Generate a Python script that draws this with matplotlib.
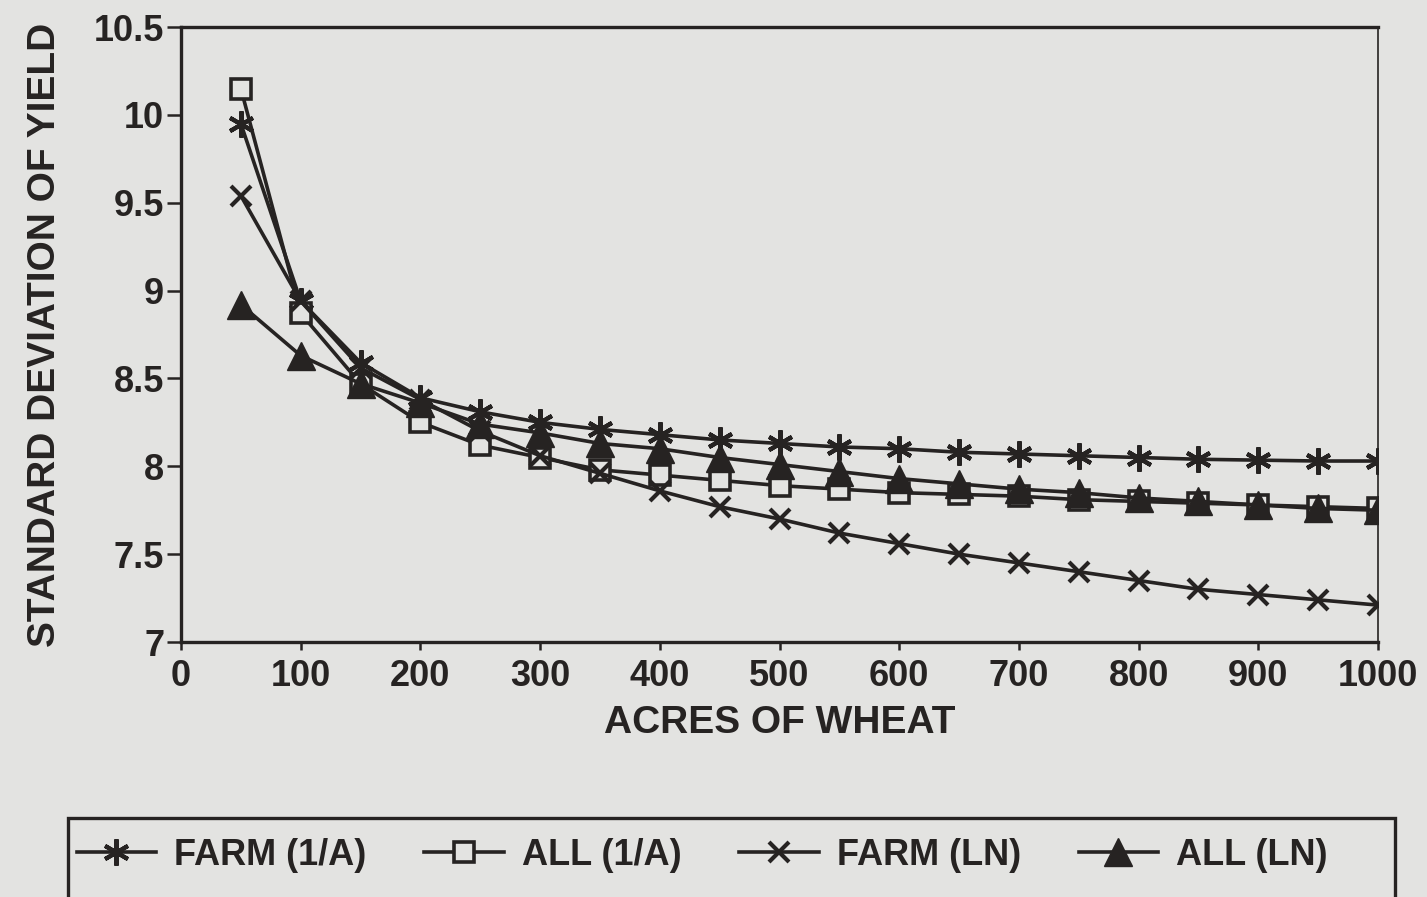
import matplotlib.pyplot as plt
from matplotlib.patches import Rectangle

plt.rcParams['font.family'] = ['Liberation Sans', 'DejaVu Sans']

# acres of wheat and the standard deviation of yield for each model
acres = [50, 100, 150, 200, 250, 300, 350, 400, 450, 500,
         550, 600, 650, 700, 750, 800, 850, 900, 950, 1000]
farm_inv = [9.95, 8.94, 8.59, 8.39, 8.31, 8.25, 8.21, 8.18, 8.15, 8.13,
            8.11, 8.10, 8.08, 8.07, 8.06, 8.05, 8.04, 8.035, 8.03, 8.03]
all_inv = [10.15, 8.87, 8.47, 8.25, 8.12, 8.05, 7.98, 7.95, 7.92, 7.89,
           7.87, 7.85, 7.84, 7.83, 7.81, 7.80, 7.79, 7.78, 7.77, 7.76]
farm_ln = [9.54, 8.94, 8.56, 8.38, 8.20, 8.06, 7.96, 7.86, 7.77, 7.70,
           7.62, 7.56, 7.50, 7.45, 7.40, 7.35, 7.30, 7.27, 7.24, 7.21]
all_ln = [8.92, 8.63, 8.47, 8.36, 8.24, 8.19, 8.13, 8.10, 8.05, 8.01,
          7.97, 7.93, 7.90, 7.87, 7.85, 7.82, 7.80, 7.78, 7.76, 7.75]

bg = "#e3e3e1"
ink = "#262322"

fig = plt.figure(figsize=(14.27, 8.97), dpi=100, facecolor=bg)
ax = fig.add_axes([181 / 1427, 1 - 642 / 897, (1378 - 181) / 1427, (642 - 27) / 897])
ax.set_facecolor(bg)

lw = 2.6
ax.plot(acres, farm_inv, color=ink, lw=lw, marker=(6, 2, 0), ms=19, mew=3.0,
        label="FARM (1/A)")
ax.plot(acres, all_inv, color=ink, lw=lw, marker="s", ms=14, mew=2.6,
        mfc=bg, mec=ink, label="ALL (1/A)")
ax.plot(acres, farm_ln, color=ink, lw=lw, marker="x", ms=15, mew=3.0,
        label="FARM (LN)")
ax.plot(acres, all_ln, color=ink, lw=lw, marker="^", ms=20, mfc=ink, mec=ink,
        label="ALL (LN)")

ax.set_xlim(0, 1000)
ax.set_ylim(7, 10.5)
ax.set_xticks(range(0, 1001, 100))
ax.set_yticks([7, 7.5, 8, 8.5, 9, 9.5, 10, 10.5])
ax.set_yticklabels(["7", "7.5", "8", "8.5", "9", "9.5", "10", "10.5"])

for side in ["left", "bottom", "top"]:
    ax.spines[side].set_linewidth(2.4)
    ax.spines[side].set_color(ink)
ax.spines["right"].set_linewidth(1.2)
ax.spines["right"].set_color(ink)

ax.tick_params(axis="both", colors=ink, labelsize=26, width=1.8, direction="out")
ax.tick_params(axis="y", length=10, pad=2)
ax.tick_params(axis="x", length=6, pad=6)
for t in ax.get_xticklabels() + ax.get_yticklabels():
    t.set_fontweight("bold")

ax.set_xlabel("ACRES OF WHEAT", fontsize=28, fontweight="bold", color=ink, labelpad=8)
ax.set_ylabel("STANDARD DEVIATION OF YIELD", fontsize=28, fontweight="bold",
              color=ink, labelpad=22)

# legend box at the bottom, cut off by the page edge
fig.patches.append(Rectangle((68 / 1427, -0.02), (1395 - 68) / 1427, 0.02 + (897 - 818) / 897,
                             transform=fig.transFigure, fill=False, ec=ink, lw=2.4))
handles, labels = ax.get_legend_handles_labels()
fig.legend(handles, labels, ncol=4, loc="center", bbox_to_anchor=(0.492, 1 - 855 / 897),
           frameon=False, prop={"weight": "bold", "size": 26},
           handlelength=2.2, columnspacing=1.6, handletextpad=0.5, labelcolor=ink)

fig.savefig("out.png", dpi=100, facecolor=bg)
